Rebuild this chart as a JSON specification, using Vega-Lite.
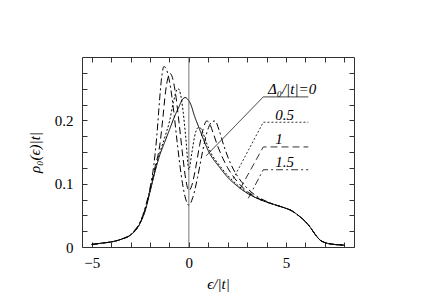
{
  "$schema": "https://vega.github.io/schema/vega-lite/v6.json",
  "width": 272,
  "height": 190,
  "autosize": "none",
  "padding": {"left": 82, "top": 57, "right": 82, "bottom": 58},
  "background": "white",
  "config": {
    "view": {"stroke": "#333", "strokeWidth": 1},
    "axis": {"labelFont": "Liberation Serif", "labelFontSize": 15, "labelColor": "black", "titleFont": "Liberation Serif", "titleFontSize": 15, "titleFontWeight": "normal", "titleColor": "black", "domain": false, "ticks": false, "labelOverlap": false, "grid": true, "gridColor": "#333", "gridOpacity": 1, "gridWidth": 1}
  },
  "datasets": {
    "curves": [
      {"x": -5.0, "y": 0.004, "s": "0"}, {"x": -4.5, "y": 0.006, "s": "0"}, {"x": -4.0, "y": 0.008, "s": "0"}, {"x": -3.5, "y": 0.012, "s": "0"}, {"x": -3.0, "y": 0.019, "s": "0"}, {"x": -2.75, "y": 0.026, "s": "0"}, {"x": -2.5, "y": 0.038, "s": "0"}, {"x": -2.25, "y": 0.057, "s": "0"}, {"x": -2.0, "y": 0.087, "s": "0"}, {"x": -1.75, "y": 0.118, "s": "0"}, {"x": -1.5, "y": 0.145, "s": "0"}, {"x": -1.25, "y": 0.165, "s": "0"}, {"x": -1.0, "y": 0.185, "s": "0"}, {"x": -0.75, "y": 0.205, "s": "0"}, {"x": -0.5, "y": 0.222, "s": "0"}, {"x": -0.35, "y": 0.232, "s": "0"}, {"x": -0.2, "y": 0.236, "s": "0"}, {"x": -0.05, "y": 0.233, "s": "0"}, {"x": 0.1, "y": 0.225, "s": "0"}, {"x": 0.3, "y": 0.206, "s": "0"}, {"x": 0.5, "y": 0.19, "s": "0"}, {"x": 0.75, "y": 0.17, "s": "0"}, {"x": 1.0, "y": 0.152, "s": "0"}, {"x": 1.25, "y": 0.139, "s": "0"}, {"x": 1.5, "y": 0.129, "s": "0"}, {"x": 2.0, "y": 0.11, "s": "0"}, {"x": 2.5, "y": 0.096, "s": "0"}, {"x": 3.0, "y": 0.085, "s": "0"}, {"x": 3.5, "y": 0.077, "s": "0"}, {"x": 4.0, "y": 0.071, "s": "0"}, {"x": 4.5, "y": 0.066, "s": "0"}, {"x": 5.0, "y": 0.061, "s": "0"}, {"x": 5.25, "y": 0.058, "s": "0"}, {"x": 5.5, "y": 0.053, "s": "0"}, {"x": 5.75, "y": 0.047, "s": "0"}, {"x": 6.0, "y": 0.04, "s": "0"}, {"x": 6.25, "y": 0.031, "s": "0"}, {"x": 6.5, "y": 0.02, "s": "0"}, {"x": 6.75, "y": 0.011, "s": "0"}, {"x": 7.0, "y": 0.007, "s": "0"}, {"x": 7.5, "y": 0.004, "s": "0"}, {"x": 8.0, "y": 0.003, "s": "0"},

      {"x": -5.0, "y": 0.004, "s": "0.5"}, {"x": -4.5, "y": 0.006, "s": "0.5"}, {"x": -4.0, "y": 0.008, "s": "0.5"}, {"x": -3.5, "y": 0.012, "s": "0.5"}, {"x": -3.0, "y": 0.019, "s": "0.5"}, {"x": -2.75, "y": 0.026, "s": "0.5"}, {"x": -2.5, "y": 0.038, "s": "0.5"}, {"x": -2.25, "y": 0.058, "s": "0.5"}, {"x": -2.0, "y": 0.088, "s": "0.5"}, {"x": -1.75, "y": 0.12, "s": "0.5"}, {"x": -1.5, "y": 0.148, "s": "0.5"}, {"x": -1.25, "y": 0.172, "s": "0.5"}, {"x": -1.0, "y": 0.198, "s": "0.5"}, {"x": -0.8, "y": 0.228, "s": "0.5"}, {"x": -0.65, "y": 0.246, "s": "0.5"}, {"x": -0.55, "y": 0.25, "s": "0.5"}, {"x": -0.42, "y": 0.24, "s": "0.5"}, {"x": -0.3, "y": 0.215, "s": "0.5"}, {"x": -0.15, "y": 0.17, "s": "0.5"}, {"x": 0.0, "y": 0.122, "s": "0.5"}, {"x": 0.15, "y": 0.148, "s": "0.5"}, {"x": 0.3, "y": 0.175, "s": "0.5"}, {"x": 0.45, "y": 0.188, "s": "0.5"}, {"x": 0.55, "y": 0.189, "s": "0.5"}, {"x": 0.7, "y": 0.182, "s": "0.5"}, {"x": 0.9, "y": 0.165, "s": "0.5"}, {"x": 1.2, "y": 0.145, "s": "0.5"}, {"x": 1.5, "y": 0.132, "s": "0.5"}, {"x": 2.0, "y": 0.113, "s": "0.5"}, {"x": 2.5, "y": 0.098, "s": "0.5"}, {"x": 3.0, "y": 0.086, "s": "0.5"}, {"x": 3.5, "y": 0.077, "s": "0.5"}, {"x": 4.0, "y": 0.071, "s": "0.5"}, {"x": 4.5, "y": 0.066, "s": "0.5"}, {"x": 5.0, "y": 0.061, "s": "0.5"}, {"x": 5.25, "y": 0.058, "s": "0.5"}, {"x": 5.5, "y": 0.053, "s": "0.5"}, {"x": 5.75, "y": 0.047, "s": "0.5"}, {"x": 6.0, "y": 0.04, "s": "0.5"}, {"x": 6.25, "y": 0.031, "s": "0.5"}, {"x": 6.5, "y": 0.02, "s": "0.5"}, {"x": 6.75, "y": 0.011, "s": "0.5"}, {"x": 7.0, "y": 0.007, "s": "0.5"}, {"x": 7.5, "y": 0.004, "s": "0.5"}, {"x": 8.0, "y": 0.003, "s": "0.5"},

      {"x": -5.0, "y": 0.004, "s": "1"}, {"x": -4.5, "y": 0.006, "s": "1"}, {"x": -4.0, "y": 0.008, "s": "1"}, {"x": -3.5, "y": 0.012, "s": "1"}, {"x": -3.0, "y": 0.019, "s": "1"}, {"x": -2.75, "y": 0.027, "s": "1"}, {"x": -2.5, "y": 0.039, "s": "1"}, {"x": -2.25, "y": 0.06, "s": "1"}, {"x": -2.0, "y": 0.09, "s": "1"}, {"x": -1.75, "y": 0.125, "s": "1"}, {"x": -1.5, "y": 0.16, "s": "1"}, {"x": -1.35, "y": 0.2, "s": "1"}, {"x": -1.2, "y": 0.245, "s": "1"}, {"x": -1.07, "y": 0.268, "s": "1"}, {"x": -0.97, "y": 0.274, "s": "1"}, {"x": -0.85, "y": 0.268, "s": "1"}, {"x": -0.7, "y": 0.245, "s": "1"}, {"x": -0.5, "y": 0.195, "s": "1"}, {"x": -0.3, "y": 0.14, "s": "1"}, {"x": -0.15, "y": 0.105, "s": "1"}, {"x": 0.0, "y": 0.089, "s": "1"}, {"x": 0.15, "y": 0.097, "s": "1"}, {"x": 0.35, "y": 0.125, "s": "1"}, {"x": 0.55, "y": 0.16, "s": "1"}, {"x": 0.75, "y": 0.188, "s": "1"}, {"x": 0.92, "y": 0.199, "s": "1"}, {"x": 1.05, "y": 0.196, "s": "1"}, {"x": 1.25, "y": 0.18, "s": "1"}, {"x": 1.5, "y": 0.158, "s": "1"}, {"x": 1.75, "y": 0.14, "s": "1"}, {"x": 2.0, "y": 0.125, "s": "1"}, {"x": 2.5, "y": 0.103, "s": "1"}, {"x": 3.0, "y": 0.088, "s": "1"}, {"x": 3.5, "y": 0.078, "s": "1"}, {"x": 4.0, "y": 0.071, "s": "1"}, {"x": 4.5, "y": 0.066, "s": "1"}, {"x": 5.0, "y": 0.061, "s": "1"}, {"x": 5.25, "y": 0.058, "s": "1"}, {"x": 5.5, "y": 0.053, "s": "1"}, {"x": 5.75, "y": 0.047, "s": "1"}, {"x": 6.0, "y": 0.04, "s": "1"}, {"x": 6.25, "y": 0.031, "s": "1"}, {"x": 6.5, "y": 0.02, "s": "1"}, {"x": 6.75, "y": 0.011, "s": "1"}, {"x": 7.0, "y": 0.007, "s": "1"}, {"x": 7.5, "y": 0.004, "s": "1"}, {"x": 8.0, "y": 0.003, "s": "1"},

      {"x": -5.0, "y": 0.004, "s": "1.5"}, {"x": -4.5, "y": 0.006, "s": "1.5"}, {"x": -4.0, "y": 0.008, "s": "1.5"}, {"x": -3.5, "y": 0.012, "s": "1.5"}, {"x": -3.0, "y": 0.02, "s": "1.5"}, {"x": -2.75, "y": 0.028, "s": "1.5"}, {"x": -2.5, "y": 0.04, "s": "1.5"}, {"x": -2.25, "y": 0.062, "s": "1.5"}, {"x": -2.0, "y": 0.093, "s": "1.5"}, {"x": -1.8, "y": 0.13, "s": "1.5"}, {"x": -1.65, "y": 0.175, "s": "1.5"}, {"x": -1.5, "y": 0.235, "s": "1.5"}, {"x": -1.4, "y": 0.268, "s": "1.5"}, {"x": -1.28, "y": 0.285, "s": "1.5"}, {"x": -1.15, "y": 0.28, "s": "1.5"}, {"x": -1.0, "y": 0.262, "s": "1.5"}, {"x": -0.8, "y": 0.22, "s": "1.5"}, {"x": -0.6, "y": 0.165, "s": "1.5"}, {"x": -0.4, "y": 0.115, "s": "1.5"}, {"x": -0.2, "y": 0.08, "s": "1.5"}, {"x": 0.0, "y": 0.066, "s": "1.5"}, {"x": 0.2, "y": 0.078, "s": "1.5"}, {"x": 0.45, "y": 0.11, "s": "1.5"}, {"x": 0.7, "y": 0.15, "s": "1.5"}, {"x": 0.95, "y": 0.183, "s": "1.5"}, {"x": 1.2, "y": 0.198, "s": "1.5"}, {"x": 1.35, "y": 0.199, "s": "1.5"}, {"x": 1.55, "y": 0.185, "s": "1.5"}, {"x": 1.8, "y": 0.16, "s": "1.5"}, {"x": 2.1, "y": 0.135, "s": "1.5"}, {"x": 2.5, "y": 0.112, "s": "1.5"}, {"x": 3.0, "y": 0.093, "s": "1.5"}, {"x": 3.5, "y": 0.08, "s": "1.5"}, {"x": 4.0, "y": 0.072, "s": "1.5"}, {"x": 4.5, "y": 0.066, "s": "1.5"}, {"x": 5.0, "y": 0.061, "s": "1.5"}, {"x": 5.25, "y": 0.058, "s": "1.5"}, {"x": 5.5, "y": 0.053, "s": "1.5"}, {"x": 5.75, "y": 0.047, "s": "1.5"}, {"x": 6.0, "y": 0.04, "s": "1.5"}, {"x": 6.25, "y": 0.031, "s": "1.5"}, {"x": 6.5, "y": 0.02, "s": "1.5"}, {"x": 6.75, "y": 0.011, "s": "1.5"}, {"x": 7.0, "y": 0.007, "s": "1.5"}, {"x": 7.5, "y": 0.004, "s": "1.5"}, {"x": 8.0, "y": 0.003, "s": "1.5"}
    ],
    "leaders": [
      {"x": 0.89, "y": 0.144, "s": "0", "o": 1}, {"x": 3.83, "y": 0.237, "s": "0", "o": 2}, {"x": 6.15, "y": 0.237, "s": "0", "o": 3},
      {"x": 2.29, "y": 0.108, "s": "0.5", "o": 1}, {"x": 3.83, "y": 0.197, "s": "0.5", "o": 2}, {"x": 6.15, "y": 0.197, "s": "0.5", "o": 3},
      {"x": 2.64, "y": 0.092, "s": "1", "o": 1}, {"x": 3.83, "y": 0.158, "s": "1", "o": 2}, {"x": 6.15, "y": 0.158, "s": "1", "o": 3},
      {"x": 3.06, "y": 0.077, "s": "1.5", "o": 1}, {"x": 3.83, "y": 0.122, "s": "1.5", "o": 2}, {"x": 6.15, "y": 0.122, "s": "1.5", "o": 3}
    ],
    "labels": [
      {"x": 4.07, "y": 0.241, "t": "Δ₀/|t|=0"},
      {"x": 4.45, "y": 0.201, "t": "0.5"},
      {"x": 4.45, "y": 0.162, "t": "1"},
      {"x": 4.45, "y": 0.126, "t": "1.5"}
    ],
    "zero": [{"x": 0, "y": 0, "o": 1}, {"x": 0, "y": 0.3, "o": 2}]
  },
  "encoding": {
    "x": {"field": "x", "type": "quantitative", "scale": {"domain": [-5.5, 8.5], "nice": false, "zero": false},
          "axis": {"orient": "bottom", "title": "ϵ/|t|", "titleFontStyle": "italic", "values": [-5, -4, -3, -2, -1, 0, 1, 2, 3, 4, 5, 6, 7, 8], "gridDash": [5, 180], "labelPadding": 8, "titlePadding": 6, "labelExpr": "datum.value == 0 ? '0' : (datum.value == 5 ? '5' : (datum.value == -5 ? '−5' : ''))"}},
    "y": {"field": "y", "type": "quantitative", "scale": {"domain": [0, 0.3], "nice": false},
          "axis": {"orient": "left", "title": "ρ₀(ϵ)|t|", "titleFontStyle": "italic", "values": [0, 0.025, 0.05, 0.075, 0.1, 0.125, 0.15, 0.175, 0.2, 0.225, 0.25, 0.275], "gridDash": [5, 262], "labelPadding": 9, "titlePadding": 12, "labelExpr": "datum.value == 0 ? '0' : (abs(datum.value * 10 - round(datum.value * 10)) < 0.001 ? format(datum.value, '.1f') : '')"}}
  },
  "layer": [
    {
      "data": {"name": "curves"},
      "mark": {"type": "line", "color": "black", "strokeWidth": 1, "interpolate": "monotone"},
      "encoding": {
        "strokeDash": {"field": "s", "type": "nominal", "scale": {"domain": ["0", "0.5", "1", "1.5"], "range": [[1, 0], [2, 2], [7, 4], [7, 3, 2, 3]]}, "legend": null},
        "detail": {"field": "s"}
      }
    },
    {
      "data": {"name": "zero"},
      "mark": {"type": "line", "color": "#555", "strokeWidth": 0.8},
      "encoding": {
        "order": {"field": "o"}
      }
    },
    {
      "data": {"name": "leaders"},
      "mark": {"type": "line", "color": "black", "strokeWidth": 0.8},
      "encoding": {
        "strokeDash": {"field": "s", "type": "nominal", "legend": null},
        "detail": {"field": "s"},
        "order": {"field": "o"}
      }
    },
    {
      "data": {"name": "labels"},
      "mark": {"type": "text", "font": "Liberation Serif", "fontSize": 15, "fontStyle": "italic", "align": "left", "baseline": "alphabetic", "color": "black"},
      "encoding": {
        "text": {"field": "t"}
      }
    }
  ]
}
